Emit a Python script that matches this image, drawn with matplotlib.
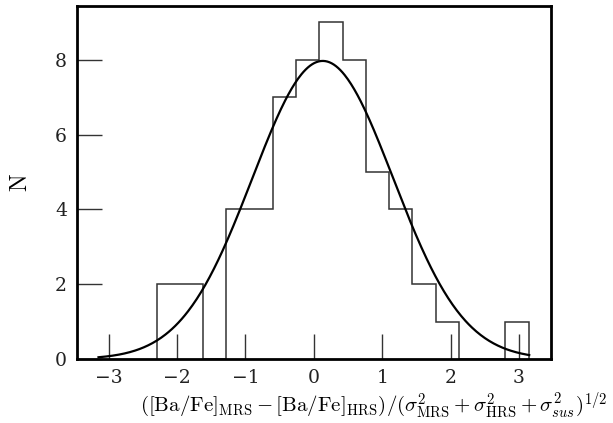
import numpy as np
import matplotlib
matplotlib.use('Agg')
import matplotlib.pyplot as plt

# histogram bins and counts
bin_edges = [-2.30, -1.96, -1.62, -1.28, -0.94, -0.60, -0.26, 0.08, 0.42,
             0.76, 1.10, 1.44, 1.78, 2.12, 2.46, 2.80, 3.14]
counts = [2, 2, 0, 4, 4, 7, 8, 9, 8, 5, 4, 2, 1, 0, 0, 1]

# fitted gaussian
amp = 7.97
mu = 0.13
sigma = 1.03
x_fit_range = (-3.15, 3.15)

plt.rcParams['font.family'] = 'DejaVu Serif'
plt.rcParams['mathtext.fontset'] = 'cm'

fig = plt.figure(figsize=(6.13, 4.23), dpi=100)
ax = fig.add_axes([0.125, 0.151, 0.774, 0.835])

centers = 0.5 * (np.array(bin_edges[:-1]) + np.array(bin_edges[1:]))
ax.hist(centers, bins=bin_edges, weights=counts, histtype='step',
        color='#333333', lw=1.1)

xf = np.linspace(x_fit_range[0], x_fit_range[1], 400)
yf = amp * np.exp(-(xf - mu)**2 / (2 * sigma**2))
ax.plot(xf, yf, color='black', lw=1.6)

ax.set_xlim(-3.47, 3.47)
ax.set_ylim(0, 9.44)
ax.set_xticks([-3, -2, -1, 0, 1, 2, 3])
ax.set_yticks([0, 2, 4, 6, 8])
ax.tick_params(direction='in', length=18, width=1, labelsize=13.5, pad=7,
               top=False, right=False, colors='#333333', labelcolor='#222222')
for s in ax.spines.values():
    s.set_linewidth(2)

ax.set_xlabel(r'$([\mathrm{Ba/Fe}]_{\mathrm{MRS}}-[\mathrm{Ba/Fe}]_{\mathrm{HRS}})'
              r'/(\sigma^2_{\mathrm{MRS}}+\sigma^2_{\mathrm{HRS}}+\sigma^2_{sus})^{1/2}$',
              fontsize=15)
ax.xaxis.set_label_coords(0.626, -0.09)
ax.set_ylabel(r'$\mathrm{N}$', fontsize=17)
ax.yaxis.set_label_coords(-0.094, 0.5)

fig.savefig('out.png', dpi=100)
